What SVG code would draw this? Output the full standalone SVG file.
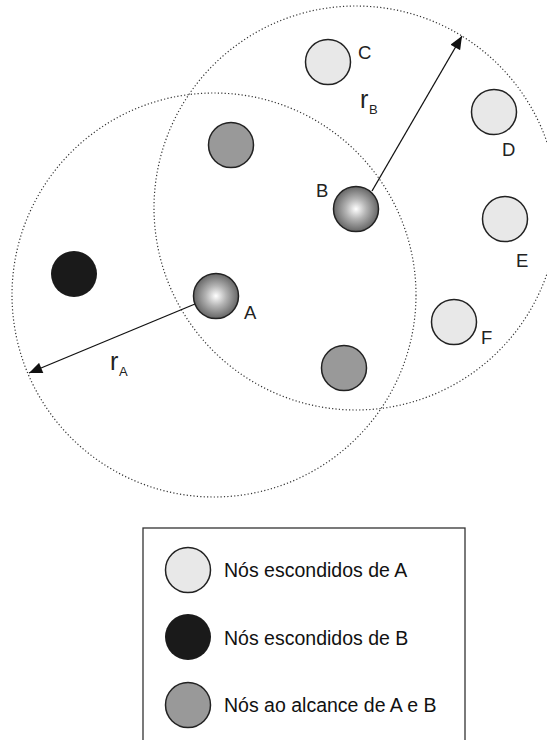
<svg xmlns="http://www.w3.org/2000/svg" width="547" height="740" viewBox="0 0 547 740">
<style>
.range{fill:none;stroke:#333;stroke-width:1.2;stroke-dasharray:1.2 2.2}
.node{stroke:#222;stroke-width:1.5}
.light{fill:#e8e8e8}
.gray{fill:#999}
.black{fill:#1a1a1a}
.main{fill:url(#sphere)}
.lbl{font-family:"Liberation Sans",Arial,sans-serif;font-size:18.5px;fill:#222}
.r{font-family:"Liberation Sans",Arial,sans-serif;font-size:25px;fill:#222}
.sub{font-family:"Liberation Sans",Arial,sans-serif;font-size:13px;fill:#222}
.leg{font-family:"Liberation Sans",Arial,sans-serif;font-size:19.5px;fill:#111}
.conn{stroke:#111;stroke-width:1.3;fill:none}
</style>
<defs>
<radialGradient id="sphere" cx="0.5" cy="0.5" r="0.5">
<stop offset="0" stop-color="#ffffff"/>
<stop offset="0.45" stop-color="#b4b4b4"/>
<stop offset="1" stop-color="#666666"/>
</radialGradient>
<marker id="arr2" viewBox="0 0 12 10" refX="12" refY="5" markerWidth="14" markerHeight="11" markerUnits="userSpaceOnUse" orient="auto">
<path d="M0,0 L12,5 L0,10 z" fill="#111"/>
</marker>
</defs>
<rect width="547" height="740" fill="#fff"/>
<g id="rangeA"><circle class="range" cx="214" cy="295" r="202"/></g>
<g id="rangeB"><circle class="range" cx="356" cy="208" r="202"/></g>
<g id="connectors">
<line class="conn" x1="195" y1="304" x2="29" y2="373" marker-end="url(#arr2)"/>
<line class="conn" x1="372" y1="191" x2="462" y2="36" marker-end="url(#arr2)"/>
</g>
<g id="labels-r">
<text class="r" x="110" y="370">r</text><text class="sub" x="119" y="376">A</text>
<text class="r" x="360" y="108">r</text><text class="sub" x="369" y="114">B</text>
</g>
<g id="nodeA"><circle class="node main" cx="216" cy="296" r="22.5"/><text class="lbl" x="244" y="319">A</text></g>
<g id="nodeB"><circle class="node main" cx="356" cy="209" r="22.5"/><text class="lbl" x="316" y="197">B</text></g>
<g id="nodeC"><circle class="node light" cx="328" cy="62" r="22.5"/><text class="lbl" x="358" y="59">C</text></g>
<g id="nodeD"><circle class="node light" cx="494" cy="112" r="22.5"/><text class="lbl" x="502" y="156">D</text></g>
<g id="nodeE"><circle class="node light" cx="505" cy="219" r="22.5"/><text class="lbl" x="516" y="267">E</text></g>
<g id="nodeF"><circle class="node light" cx="454" cy="322" r="22.5"/><text class="lbl" x="481" y="344">F</text></g>
<g id="nodeG1"><circle class="node gray" cx="231" cy="145" r="22.5"/></g>
<g id="nodeG2"><circle class="node gray" cx="344" cy="368" r="22.5"/></g>
<g id="nodeH"><circle class="black" cx="74" cy="274" r="23"/></g>
<g id="legend">
<rect x="143" y="528" width="322" height="230" fill="none" stroke="#333" stroke-width="1.3"/>
<circle class="node light" cx="188" cy="570" r="22.5"/>
<text class="leg" x="224" y="577">Nós escondidos de A</text>
<circle class="black" cx="188" cy="637" r="23"/>
<text class="leg" x="224" y="645">Nós escondidos de B</text>
<circle class="node gray" cx="188" cy="705" r="22.5"/>
<text class="leg" x="224" y="712">Nós ao alcance de A e B</text>
</g>
</svg>
